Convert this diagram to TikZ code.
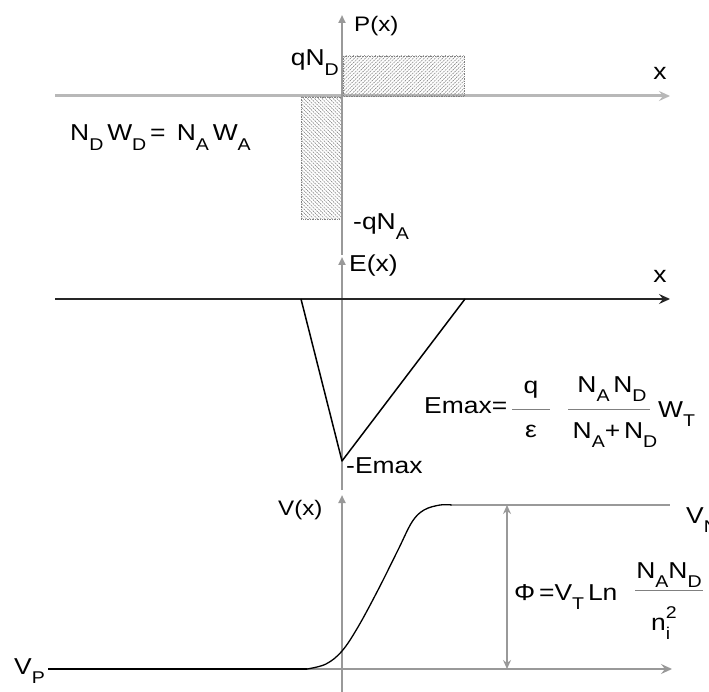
\documentclass[tikz,border=0pt]{standalone}
\usepackage{fontspec}
\setmainfont[FakeStretch=1.15]{Liberation Sans}
\usetikzlibrary{arrows.meta,patterns.meta}
\newcommand\lo[1]{\raisebox{-0.4em}{\fontsize{17}{17}\selectfont #1}}
\newcommand\hi[1]{\raisebox{0.5em}{\fontsize{17}{17}\selectfont #1}}
\definecolor{axgray}{gray}{0.6}
\definecolor{ltgray}{gray}{0.72}
\begin{document}
\begin{tikzpicture}[x=1pt,y=-1pt,inner sep=0pt,
  font=\fontsize{23}{26}\selectfont,
  htip/.style={-{Stealth[length=11pt,width=10pt,inset=4pt]}},
  vtip/.style={-{Triangle[length=8pt,width=7pt]}},
  vaxis/.style={draw=axgray,line width=2.2pt,vtip},
  hatchne/.style={pattern={Lines[angle=45,distance=2.6pt,line width=0.7pt]},pattern color=gray,draw=gray,densely dotted,line width=0.6pt},
  hatchnw/.style={pattern={Lines[angle=-45,distance=2.6pt,line width=0.7pt]},pattern color=gray,draw=gray,densely dotted,line width=0.6pt},
  frac/.style={draw=gray,line width=1pt}]
\useasboundingbox (0,0) rectangle (709,692);
\fill[white] (0,0) rectangle (709,692);

% ---------- charge density ----------
\coordinate (pL) at (55,96);
\coordinate (pR) at (670,96);
\draw[ltgray,line width=3pt,htip] (pL) -- (pR);
\draw[hatchne] (343,56) rectangle (464,96);
\draw[hatchnw] (301,97) rectangle (341,219);
\coordinate (pB) at (342,255);
\coordinate (pT) at (342,15);
\draw[vaxis] (pB) -- (pT);
\node[anchor=base west,font=\fontsize{21}{24}\selectfont] (rho) at (354,32) {P(x)};
\node[anchor=base east] (qnd) at (339,66) {qN\lo{D}};
\node[anchor=base west] (qna) at (353,230) {-qN\lo{A}};
\node[anchor=base] (x1) at (660,80) {x};
\node[anchor=base west] (neut) at (70,141) {N\lo{D}\,W\lo{D}\,= \,N\lo{A}\,W\lo{A}};

% ---------- electric field ----------
\coordinate (eL) at (55,299);
\coordinate (eR) at (670,299);
\coordinate (eB) at (342,490);
\coordinate (eT) at (342,257);
\draw[vaxis] (eB) -- (eT);
\draw[black!85,line width=1.5pt,htip] (eL) -- (eR);
\coordinate (e1) at (301,299);
\coordinate (emin) at (342,461);
\coordinate (e2) at (465,299);
\draw[black,line width=1.5pt,line join=round] (e1) -- (emin) -- (e2);
\node[anchor=base west] (ex) at (349,272) {E(x)};
\node[anchor=base] (x2) at (660,283) {x};
\node[anchor=base west] (memax) at (346,473) {-Emax};
\node[anchor=base west] (emax) at (424,413) {Emax=};
\coordinate (f1a) at (512,409); \coordinate (f1b) at (550,409);
\draw[frac] (f1a) -- (f1b);
\node (q) at (531,390) {q};
\node (eps) at (531,431) {ε};
\coordinate (f2a) at (568,409); \coordinate (f2b) at (650,409);
\draw[frac] (f2a) -- (f2b);
\node[anchor=base] (num1) at (612,392) {N\lo{A}\,N\lo{D}};
\node[anchor=base] (den1) at (615,438) {N\lo{A}+\,N\lo{D}};
\node[anchor=base west] (wt) at (658,417) {W\lo{T}};

% ---------- potential ----------
\coordinate (vL) at (48,669);
\coordinate (vR) at (672,669);
\draw[axgray,line width=2pt,htip] (vL) -- (vR);
\coordinate (vB) at (342,692);
\coordinate (vT) at (342,495);
\draw[vaxis] (vB) -- (vT);
\coordinate (vs) at (307,669);
\draw[black,line width=2.5pt] (vL) -- (vs);
\draw[black,line width=1.3pt] plot[smooth,tension=0.6] coordinates
  {(307,669) (326,664) (342,651) (358,627) (378,590) (398,550) (412,522) (424,510) (440,505) (452,505)};
\coordinate (vnL) at (452,505);
\coordinate (vnR) at (670,505);
\draw[axgray,line width=2pt] (vnL) -- (vnR);
\coordinate (phT) at (507,505);
\coordinate (phB) at (507,669);
\draw[axgray,line width=2pt,{Stealth[length=9pt,width=8pt,inset=3pt]}-{Stealth[length=9pt,width=8pt,inset=3pt]}] (phT) -- (phB);
\node[anchor=base west,font=\fontsize{21}{24}\selectfont] (vx) at (278,515) {V(x)};
\node[anchor=base west] (vp) at (14,674) {V\lo{P}};
\node[anchor=base west] (vn) at (686,523) {V\lo{N}};
\node[anchor=base west] (phi) at (514,600) {Φ\,=V\lo{T}\,Ln};
\coordinate (f3a) at (635,590); \coordinate (f3b) at (703,590);
\draw[frac] (f3a) -- (f3b);
\node[anchor=base] (num2) at (669,578) {N\lo{A}N\lo{D}};
\node[anchor=base west] (den2) at (651,630) {n\rlap{\lo{i}}\hi{2}};
\end{tikzpicture}
\end{document}
